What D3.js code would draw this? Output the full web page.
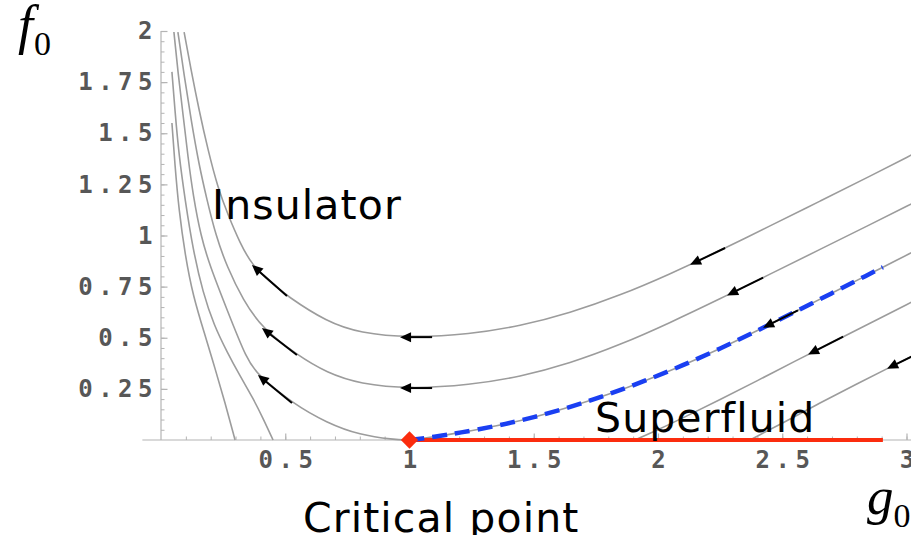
<!DOCTYPE html>
<html>
<head>
<meta charset="utf-8">
<script src="https://cdn.jsdelivr.net/npm/d3@7"></script>
<style>
  html, body { margin: 0; padding: 0; background: #fff; }
  svg { display: block; }
</style>
</head>
<body>
<svg id="chart" width="911" height="535"></svg>
<script>
// RG flow of the coupling f0 versus g0: insulating and superfluid basins

const xTickValues = [0.5, 1, 1.5, 2, 2.5, 3];
const xTickLabels = ["0.5", "1", "1.5", "2", "2.5", "3"];
const yTickValues = [0.25, 0.5, 0.75, 1, 1.25, 1.5, 1.75, 2];
const yTickLabels = ["0.25", "0.5", "0.75", "1", "1.25", "1.5", "1.75", "2"];

// Flow line with its minimum at f0 = 0.5
const flowHigh = [
  [0.093, 1.995], [0.121, 1.809], [0.153, 1.614], [0.189, 1.418], [0.229, 1.232],
  [0.270, 1.100], [0.318, 0.963], [0.366, 0.856], [0.439, 0.773], [0.507, 0.704],
  [0.668, 0.577], [0.801, 0.523], [1.0, 0.5], [1.243, 0.517], [1.445, 0.557],
  [1.646, 0.621], [1.847, 0.707], [2.046, 0.810], [2.249, 0.926], [2.451, 1.047],
  [2.652, 1.168], [2.853, 1.290], [3.03, 1.400]
];

// Flow line with its minimum at f0 = 0.25
const flowMid = [
  [0.068, 1.995], [0.093, 1.785], [0.121, 1.565], [0.153, 1.345], [0.185, 1.174],
  [0.221, 0.998], [0.266, 0.846], [0.330, 0.685], [0.406, 0.548], [0.547, 0.416],
  [0.668, 0.328], [0.801, 0.274], [1.0, 0.25], [1.243, 0.269], [1.445, 0.309],
  [1.646, 0.375], [1.847, 0.465], [2.046, 0.572], [2.249, 0.690], [2.451, 0.811],
  [2.652, 0.932], [2.853, 1.053], [3.03, 1.161]
];

// Separatrix through the critical point (1, 0)
const separatrixLeft = [
  [0.052, 1.995], [0.068, 1.800], [0.089, 1.589], [0.109, 1.379], [0.129, 1.198],
  [0.161, 0.993], [0.197, 0.851], [0.266, 0.636], [0.346, 0.391], [0.390, 0.318],
  [0.527, 0.181], [0.668, 0.083], [0.801, 0.024], [0.934, 0.002], [1.0, 0]
];
const separatrixRight = [
  [1.0, 0], [1.1, 0.015], [1.2, 0.035], [1.35, 0.068], [1.5, 0.110],
  [1.65, 0.162], [1.8, 0.222], [1.95, 0.290], [2.1, 0.365], [2.25, 0.446],
  [2.4, 0.535], [2.55, 0.626], [2.7, 0.718], [2.85, 0.811], [2.905, 0.845],
  [3.03, 0.922]
];
const separatrixEnd = 2.905;

// Insulating flows that end on the g0 axis
const insulatorInner = [
  [0.044, 1.800], [0.056, 1.614], [0.072, 1.394], [0.097, 1.174], [0.129, 0.929],
  [0.169, 0.719], [0.213, 0.562], [0.266, 0.430], [0.318, 0.313], [0.370, 0.205],
  [0.410, 0.108], [0.451, 0]
];
const insulatorOuter = [
  [0.044, 1.550], [0.056, 1.345], [0.072, 1.125], [0.097, 0.905], [0.129, 0.704],
  [0.177, 0.513], [0.217, 0.352], [0.258, 0.181], [0.298, 0]
];

// Superfluid flows that start on the g0 axis
const superfluidInner = [
  [1.907, 0], [2.0, 0.05], [2.1, 0.108], [2.25, 0.197], [2.4, 0.290],
  [2.55, 0.385], [2.7, 0.477], [2.85, 0.569], [3.03, 0.680]
];
const superfluidOuter = [
  [2.370, 0], [2.5, 0.082], [2.65, 0.180], [2.8, 0.274], [2.95, 0.366],
  [3.03, 0.414]
];

// Fixed line of the superfluid phase and the critical point
const fixedLine = [[1.0, 0], [2.905, 0]];
const criticalPoint = [1.0, 0];

// Flow direction arrows: tail -> head
const flowArrows = [
  { tail: [0.507, 0.704], head: [0.366, 0.856] },
  { tail: [0.547, 0.416], head: [0.406, 0.548] },
  { tail: [0.527, 0.181], head: [0.390, 0.318] },
  { tail: [1.091, 0.503], head: [0.962, 0.503] },
  { tail: [1.091, 0.254], head: [0.962, 0.254] },
  { tail: [2.270, 0.939], head: [2.129, 0.857] },
  { tail: [2.423, 0.794], head: [2.278, 0.707] },
  { tail: [2.563, 0.634], head: [2.423, 0.549] },
  { tail: [2.745, 0.505], head: [2.604, 0.418] },
  { tail: [3.034, 0.416], head: [2.922, 0.349] }
];

const svg = d3.select("#chart");
const x = d3.scaleLinear().domain([0, 3]).range([161, 906.5]);
const y = d3.scaleLinear().domain([0, 2]).range([440, 31]);

const axisColor = "#b4b4b4";
const tickFont = "'DejaVu Sans Mono', 'Liberation Mono', monospace";

// Axis lines
svg.append("line")
  .attr("x1", x(-0.075)).attr("x2", x(3.1))
  .attr("y1", y(0)).attr("y2", y(0))
  .attr("stroke", axisColor).attr("stroke-width", 1.2);
svg.append("line")
  .attr("x1", x(0)).attr("x2", x(0))
  .attr("y1", y(0)).attr("y2", y(2))
  .attr("stroke", axisColor).attr("stroke-width", 1.2);

// Minor ticks
const xMinor = d3.range(1, 31).map(i => i / 10);
const yMinor = d3.range(1, 41).map(i => i / 20);
svg.append("g").attr("transform", `translate(0,${y(0)})`)
  .call(d3.axisBottom(x).tickValues(xMinor).tickSizeInner(-3.5).tickSizeOuter(0).tickFormat(""))
  .call(g => g.select(".domain").remove())
  .call(g => g.selectAll("line").attr("stroke", axisColor));
svg.append("g").attr("transform", `translate(${x(0)},0)`)
  .call(d3.axisLeft(y).tickValues(yMinor).tickSizeInner(-3.5).tickSizeOuter(0).tickFormat(""))
  .call(g => g.select(".domain").remove())
  .call(g => g.selectAll("line").attr("stroke", axisColor));

// Major ticks with labels
const xAxis = svg.append("g").attr("transform", `translate(0,${y(0)})`)
  .call(d3.axisBottom(x).tickValues(xTickValues).tickSizeInner(-6.5).tickSizeOuter(0)
    .tickPadding(11).tickFormat((d, i) => xTickLabels[i]));
const yAxis = svg.append("g").attr("transform", `translate(${x(0)},0)`)
  .call(d3.axisLeft(y).tickValues(yTickValues).tickSizeInner(-6.5).tickSizeOuter(0)
    .tickPadding(3).tickFormat((d, i) => yTickLabels[i]));
[xAxis, yAxis].forEach(ax => {
  ax.select(".domain").remove();
  ax.selectAll("line").attr("stroke", axisColor).attr("stroke-width", 1.2);
  ax.selectAll("text")
    .attr("fill", "#575757")
    .style("font-family", tickFont)
    .style("font-weight", "bold")
    .style("font-size", "24px")
    .style("letter-spacing", "5.5px");
});
xAxis.selectAll("text").attr("dx", 2.75);

// Flow lines
const line = d3.line()
  .x(d => x(d[0]))
  .y(d => y(d[1]))
  .curve(d3.curveBasis);

const flows = [flowHigh, flowMid, separatrixLeft, separatrixRight,
  insulatorInner, insulatorOuter, superfluidInner, superfluidOuter];
svg.append("g")
  .selectAll("path")
  .data(flows)
  .join("path")
  .attr("d", line)
  .attr("fill", "none")
  .attr("stroke", "#9c9c9c")
  .attr("stroke-width", 1.6);

// Superfluid fixed line
svg.append("path")
  .attr("d", d3.line().x(d => x(d[0])).y(d => y(d[1]))(fixedLine))
  .attr("stroke", "#fb2c0e")
  .attr("stroke-width", 4)
  .attr("fill", "none");

// Separatrix highlight
svg.append("path")
  .attr("d", line(separatrixRight.filter(d => d[0] <= separatrixEnd)))
  .attr("fill", "none")
  .attr("stroke", "#1a3ff2")
  .attr("stroke-width", 4.5)
  .attr("stroke-dasharray", "15,8");

// Critical point
svg.append("path")
  .attr("d", d3.symbol().type(d3.symbolSquare).size(150)())
  .attr("transform", `translate(${x(criticalPoint[0])},${y(criticalPoint[1])}) rotate(45)`)
  .attr("fill", "#fb2c0e");

// Arrows
const arrowG = svg.append("g");
flowArrows.forEach(a => {
  const x0 = x(a.tail[0]), y0 = y(a.tail[1]);
  const x1 = x(a.head[0]), y1 = y(a.head[1]);
  const len = Math.hypot(x1 - x0, y1 - y0);
  const ux = (x1 - x0) / len, uy = (y1 - y0) / len;
  const hl = 11, hw = 5;
  const bx = x1 - ux * hl, by = y1 - uy * hl;
  arrowG.append("line")
    .attr("x1", x0).attr("y1", y0)
    .attr("x2", bx + ux * 2).attr("y2", by + uy * 2)
    .attr("stroke", "#000").attr("stroke-width", 2);
  arrowG.append("polygon")
    .attr("points", [
      [x1, y1],
      [bx - uy * hw, by + ux * hw],
      [bx + uy * hw, by - ux * hw]
    ].map(p => p.join(",")).join(" "))
    .attr("fill", "#000");
});

// Region labels
const labelFont = "'DejaVu Sans', 'Noto Sans', sans-serif";
[["Insulator", 212, 219], ["Superfluid", 595, 432], ["Critical point", 303, 532]]
  .forEach(([t, lx, ly]) => {
    svg.append("text").attr("x", lx).attr("y", ly).text(t)
      .style("font-family", labelFont).style("font-size", "41px")
      .style("letter-spacing", "1.1px").attr("fill", "#000");
  });

// Axis titles
const serif = "'Liberation Serif', 'DejaVu Serif', serif";
const fLabel = svg.append("text").attr("x", 18).attr("y", 43)
  .style("font-family", serif).attr("fill", "#000");
fLabel.append("tspan").text("f").style("font-style", "italic").style("font-size", "54px");
fLabel.append("tspan").text("0").style("font-size", "34px").attr("dy", 12).attr("dx", 1);

const gLabel = svg.append("text").attr("x", 867).attr("y", 514)
  .style("font-family", serif).attr("fill", "#000");
gLabel.append("tspan").text("g").style("font-style", "italic").style("font-size", "53px");
gLabel.append("tspan").text("0").style("font-size", "34px").attr("dy", 13).attr("dx", 0);
</script>
</body>
</html>
